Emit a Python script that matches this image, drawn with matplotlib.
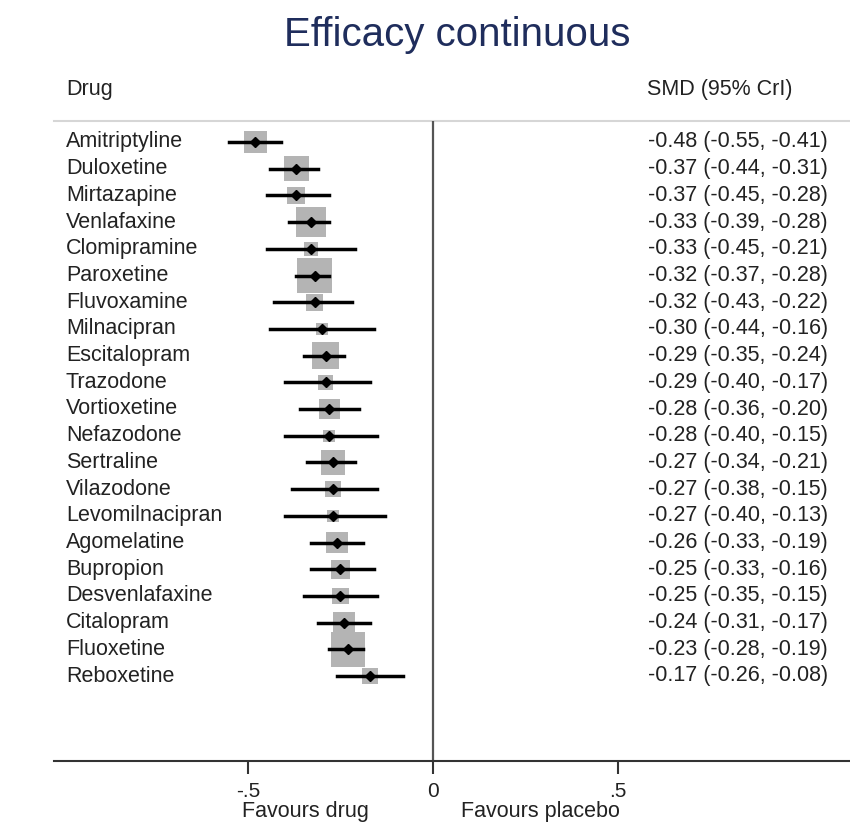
import matplotlib
matplotlib.use('Agg')
import matplotlib.pyplot as plt
from matplotlib.patches import Rectangle

drugs = ['Amitriptyline', 'Duloxetine', 'Mirtazapine', 'Venlafaxine', 'Clomipramine',
         'Paroxetine', 'Fluvoxamine', 'Milnacipran', 'Escitalopram', 'Trazodone',
         'Vortioxetine', 'Nefazodone', 'Sertraline', 'Vilazodone', 'Levomilnacipran',
         'Agomelatine', 'Bupropion', 'Desvenlafaxine', 'Citalopram', 'Fluoxetine',
         'Reboxetine']
smd = [-0.48, -0.37, -0.37, -0.33, -0.33, -0.32, -0.32, -0.30, -0.29, -0.29, -0.28,
       -0.28, -0.27, -0.27, -0.27, -0.26, -0.25, -0.25, -0.24, -0.23, -0.17]
lo = [-0.55, -0.44, -0.45, -0.39, -0.45, -0.37, -0.43, -0.44, -0.35, -0.40, -0.36,
      -0.40, -0.34, -0.38, -0.40, -0.33, -0.33, -0.35, -0.31, -0.28, -0.26]
hi = [-0.41, -0.31, -0.28, -0.28, -0.21, -0.28, -0.22, -0.16, -0.24, -0.17, -0.20,
      -0.15, -0.21, -0.15, -0.13, -0.19, -0.16, -0.15, -0.17, -0.19, -0.08]
# box side (weight), in SMD units
weight = [0.062, 0.068, 0.048, 0.080, 0.038, 0.096, 0.045, 0.034, 0.072, 0.039, 0.056,
          0.032, 0.066, 0.042, 0.034, 0.059, 0.052, 0.045, 0.060, 0.093, 0.044]
xticks = [-0.5, 0, 0.5]
xticklabels = ['-.5', '0', '.5']

W, H = 850, 827
fig = plt.figure(figsize=(W / 100, H / 100), dpi=100)
plt.rcParams['font.family'] = ['Liberation Sans', 'DejaVu Sans']
txt = '#222222'

def fx(x):
    return x / W

def fy(y):
    return 1 - y / H

# plot area in pixels
left, right, top, bottom = 54, 850, 121, 761
ax = fig.add_axes([fx(left), fy(bottom), fx(right - left), (bottom - top) / H])
x0 = 433
pxu = 370.0
ax.set_xlim((left - x0) / pxu, (right - x0) / pxu)
row0, drow = 142, 26.7
ax.set_ylim((bottom - row0) / drow, (top - row0) / drow)

for s in ['top', 'right', 'left']:
    ax.spines[s].set_visible(False)
ax.spines['bottom'].set_color('#333333')
ax.spines['bottom'].set_linewidth(1.5)
ax.set_yticks([])
ax.set_xticks(xticks)
ax.set_xticklabels(xticklabels, fontsize=15, color=txt)
ax.tick_params(axis='x', length=9, width=1.5, color='#333333', pad=6)

ax.axhline((top - row0) / drow, color='#d6d6d6', lw=1.5, clip_on=False)
ax.axvline(0, color='#555555', lw=1.6)

for i in range(len(drugs)):
    side = weight[i]
    hgt = side * pxu / drow
    ax.add_patch(Rectangle((smd[i] - side / 2, i - hgt / 2), side, hgt,
                           facecolor='#b4b4b4', edgecolor='none', zorder=2))
    ax.plot([lo[i], hi[i]], [i, i], color='black', lw=2.5, zorder=3)
    ax.plot(smd[i], i, marker='D', color='black', markersize=5.5, zorder=4)
    y = fy(row0 + i * drow)
    fig.text(fx(66), y, drugs[i], fontsize=15.5, color=txt, va='center', ha='left')
    fig.text(fx(828), y, '%.2f (%.2f, %.2f)' % (smd[i], lo[i], hi[i]),
             fontsize=15.5, color=txt, va='center', ha='right')

fig.text(fx(66), fy(89), 'Drug', fontsize=15.5, color=txt, va='center')
fig.text(fx(647), fy(89), 'SMD (95% CrI)', fontsize=15.5, color=txt, va='center')
fig.text(fx(305), fy(811), 'Favours drug', fontsize=15.5, color=txt, va='center', ha='center')
fig.text(fx(540), fy(811), 'Favours placebo', fontsize=15.5, color=txt, va='center', ha='center')
fig.text(fx(457), fy(35), 'Efficacy continuous', fontsize=29, color='#1f2d5c',
         va='center', ha='center')

fig.savefig('out.png', dpi=100)
